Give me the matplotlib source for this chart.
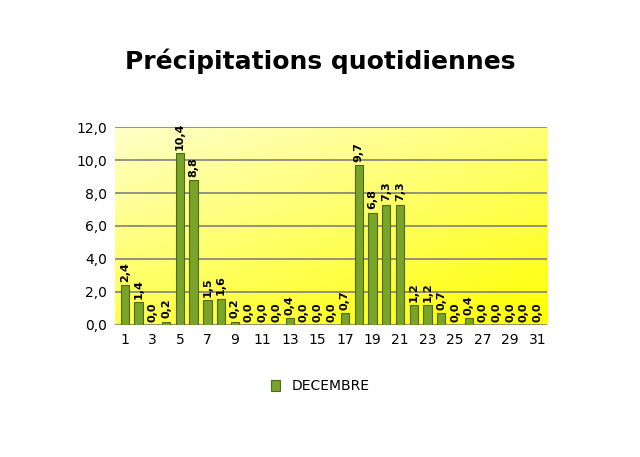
import matplotlib
matplotlib.use("Agg")
import matplotlib.pyplot as plt
import numpy as np
from matplotlib.colors import LinearSegmentedColormap

days = list(range(1, 32))
values = [2.4, 1.4, 0.0, 0.2, 10.4, 8.8, 1.5, 1.6, 0.2, 0.0, 0.0, 0.0, 0.4, 0.0, 0.0, 0.0,
          0.7, 9.7, 6.8, 7.3, 7.3, 1.2, 1.2, 0.7, 0.0, 0.4, 0.0, 0.0, 0.0, 0.0, 0.0]
series_name = "DECEMBRE"
title = "Précipitations quotidiennes"

fig = plt.figure(figsize=(6.4, 4.57), dpi=100)
fig.patch.set_facecolor("white")
ax = fig.add_axes([0.18, 0.289, 0.675, 0.433])
gx, gy = np.meshgrid(np.linspace(0, 1, 200), np.linspace(0, 1, 200))
grad = 0.6 * gy + 0.4 * (1 - gx)
cmap = LinearSegmentedColormap.from_list("y", ["#ffff00", "#ffffc8"])
ax.imshow(grad, extent=[0.3, 31.7, 0, 12], aspect="auto", cmap=cmap, origin="lower", zorder=0)
for y in np.arange(0, 12.1, 2):
    ax.axhline(y, color="#808080", lw=1.2, zorder=1)
bars = ax.bar(days, values, width=0.6, color="#7aa32a", edgecolor="#4d6b14", lw=0.8, zorder=3, label=series_name)
for d, v in zip(days, values):
    ax.text(d, v + 0.2, f"{v:.1f}".replace(".", ","), rotation=90, ha="center", va="bottom",
            fontsize=8, fontweight="bold", zorder=4)
ax.set_xlim(0.3, 31.7)
ax.set_ylim(0, 12)
ax.set_yticks(np.arange(0, 12.1, 2))
ax.set_yticklabels([f"{y:.1f}".replace(".", ",") for y in np.arange(0, 12.1, 2)], fontsize=10)
ax.set_xticks(range(1, 32, 2))
ax.set_xticklabels([str(d) for d in range(1, 32, 2)], fontsize=10)
ax.tick_params(length=0, pad=6)
for s in ax.spines.values():
    s.set_visible(False)
fig.text(0.5, 0.865, title, ha="center", va="center", fontsize=18, fontweight="bold")
fig.legend(handles=[bars], labels=[series_name], loc="center", bbox_to_anchor=(0.5, 0.155),
           frameon=False, fontsize=10, handlelength=0.7, handleheight=0.9)
fig.savefig("out.png", dpi=100)
